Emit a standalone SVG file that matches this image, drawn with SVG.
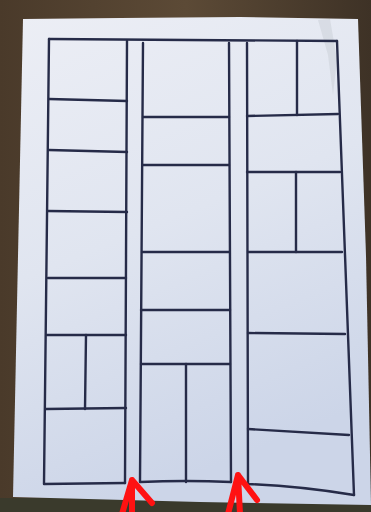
<svg xmlns="http://www.w3.org/2000/svg" width="371" height="512" viewBox="0 0 371 512">
<defs>
<linearGradient id="wood" x1="0" y1="0" x2="1" y2="0">
<stop offset="0" stop-color="#4a3a2a"/><stop offset="0.5" stop-color="#5c4a36"/><stop offset="1" stop-color="#3e3226"/>
</linearGradient>
<linearGradient id="paper" x1="0" y1="0" x2="0.3" y2="1">
<stop offset="0" stop-color="#eceef5"/><stop offset="0.5" stop-color="#e0e5f0"/><stop offset="1" stop-color="#ccd5e8"/>
</linearGradient>
<style>
.ln{stroke:#262b48;stroke-width:2.4;fill:none;stroke-linecap:round;stroke-linejoin:round}
.ar{stroke:#ff1212;stroke-width:6;fill:none;stroke-linecap:round;stroke-linejoin:round}
</style>
</defs>
<rect x="0" y="0" width="371" height="512" fill="url(#wood)"/>
<rect x="0" y="498" width="371" height="14" fill="#3a3a2c"/>
<polygon points="23,19 120,18 240,17 358,19 366,256 371,505 200,502 13,497 18,256" fill="url(#paper)"/>
<polygon points="318,20 330,19 337,60 333,95 328,55" fill="#c4c7d0" opacity="0.4"/>
<g id="frame">
<path class="ln" d="M49,39 L337,41"/>
<path class="ln" d="M49,39 L44,484 L125,483"/>
<path class="ln" d="M127,41 L125,483"/>
<path class="ln" d="M143,43 L140,482 Q186,480 231,482"/>
<path class="ln" d="M229,43 L231,482"/>
<path class="ln" d="M247,43 L248,484 Q300,486 354,495"/>
<path class="ln" d="M337,41 L354,495"/>
</g>
<g id="left-column">
<path class="ln" d="M49,99 L127,101"/>
<path class="ln" d="M49,150 L127,152"/>
<path class="ln" d="M48,211 L127,212"/>
<path class="ln" d="M48,278 L126,278"/>
<path class="ln" d="M47,335 L126,335"/>
<path class="ln" d="M46,409 L126,408"/>
<path class="ln" d="M86,335 L85,409"/>
</g>
<g id="middle-column">
<path class="ln" d="M143,117 L229,117"/>
<path class="ln" d="M143,165 L229,165"/>
<path class="ln" d="M142,252 L229,252"/>
<path class="ln" d="M141,310 L230,310"/>
<path class="ln" d="M141,364 L230,364"/>
<path class="ln" d="M186,364 L186,482"/>
</g>
<g id="right-column">
<path class="ln" d="M247,116 L338,114"/>
<path class="ln" d="M297,41 L297,115"/>
<path class="ln" d="M247,172 L340,172"/>
<path class="ln" d="M296,172 L296,252"/>
<path class="ln" d="M248,252 L342,252"/>
<path class="ln" d="M248,333 L345,334"/>
<path class="ln" d="M248,429 L349,435"/>
</g>
<g id="arrows">
<path class="ar" d="M122,514 L132,480 L152,503 M132,480 L132,514"/>
<path class="ar" d="M228,514 L238,475 L257,500 M238,475 L240,514"/>
</g>
</svg>
